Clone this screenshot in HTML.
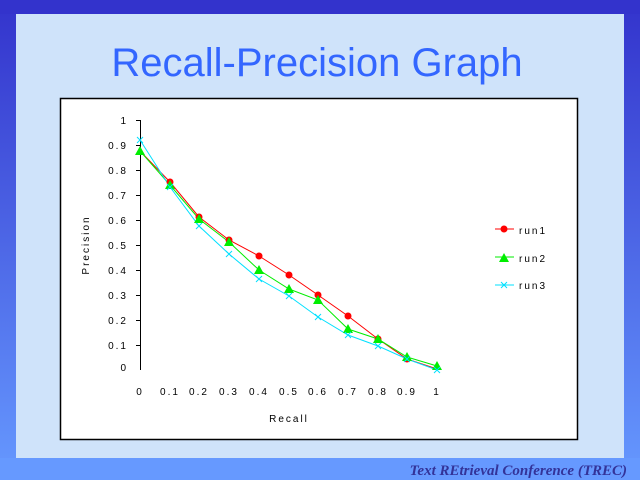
<!DOCTYPE html>
<html><head><style>
html,body{margin:0;padding:0;width:640px;height:480px;overflow:hidden}
body{background:linear-gradient(#3030c8,#4a6ae0 60%,#6090f8);position:relative}
</style></head><body>
<svg width="640" height="480" viewBox="0 0 640 480" xmlns="http://www.w3.org/2000/svg" style="position:absolute;left:0;top:0">
<defs><linearGradient id="b" x1="0" y1="0" x2="0" y2="1"><stop offset="0" stop-color="#3333cc"/><stop offset="1" stop-color="#6699ff"/></linearGradient></defs>
<rect x="0" y="0" width="640" height="480" fill="url(#b)"/>
<rect x="0" y="0" width="640" height="14" fill="#3333cc"/>
<rect x="0" y="458" width="640" height="22" fill="#6699ff"/>
<rect x="16" y="14" width="608" height="444" fill="#cfe3fa"/>
<text x="317" y="76" text-anchor="middle" font-family="Liberation Sans, sans-serif" font-size="40" fill="#3366ff">Recall-Precision Graph</text>
<rect x="60.5" y="98.5" width="517" height="341" fill="#fff" stroke="#000" stroke-width="1.5"/>
<g font-family="Liberation Sans, sans-serif" font-size="10" fill="#000" letter-spacing="2">
<line x1="140.5" y1="120" x2="140.5" y2="370" stroke="#000"/>
<g text-anchor="end">
<text x="128" y="124">1</text><text x="128" y="149">0.9</text><text x="128" y="174">0.8</text><text x="128" y="199">0.7</text><text x="128" y="224">0.6</text><text x="128" y="249">0.5</text><text x="128" y="274">0.4</text><text x="128" y="299">0.3</text><text x="128" y="324">0.2</text><text x="128" y="349">0.1</text><text x="128" y="371">0</text>
</g>
<path d="M136 120.5H140M136 145.5H140M136 170.5H140M136 195.5H140M136 220.5H140M136 245.5H140M136 270.5H140M136 295.5H140M136 320.5H140M136 345.5H140" stroke="#000"/>
<g text-anchor="middle">
<text x="140" y="395">0</text><text x="170" y="395">0.1</text><text x="199" y="395">0.2</text><text x="229" y="395">0.3</text><text x="259" y="395">0.4</text><text x="289" y="395">0.5</text><text x="318" y="395">0.6</text><text x="348" y="395">0.7</text><text x="378" y="395">0.8</text><text x="407" y="395">0.9</text><text x="437" y="395">1</text>
<text x="289" y="422">Recall</text>
</g>
<text transform="translate(89 245) rotate(-90)" text-anchor="middle">Precision</text>
<text x="519" y="234">run1</text><text x="519" y="262">run2</text><text x="519" y="289">run3</text>
</g>
<polyline fill="none" stroke="#ff0000" points="140,151 170,182 199,217 229,240 259,256 289,275 318,295 348,316 378,339 407,359 437,369"/>
<polyline fill="none" stroke="#00ee00" points="140,151 170,185 199,219 229,242 259,270 289,289 318,300 348,329 378,339 407,357 437,366"/>
<polyline fill="none" stroke="#00e0ff" points="140,140 170,187 199,226 229,254 259,279 289,296 318,317 348,335 378,346 407,359 437,370"/>
<g fill="#ff0000">
<circle cx="170" cy="182" r="3.5"/><circle cx="199" cy="217" r="3.5"/><circle cx="229" cy="240" r="3.5"/><circle cx="259" cy="256" r="3.5"/><circle cx="289" cy="275" r="3.5"/><circle cx="318" cy="295" r="3.5"/><circle cx="348" cy="316" r="3.5"/><circle cx="378" cy="339" r="3.5"/><circle cx="407" cy="359" r="3.5"/>
<circle cx="504" cy="229" r="3.5"/><line x1="495" y1="229" x2="514" y2="229" stroke="#ff0000"/>
</g>
<g fill="#00ee00">
<path d="M140 146l5 9h-10z M170 180l5 9h-10z M199 214l5 9h-10z M229 237l5 9h-10z M259 265l5 9h-10z M289 284l5 9h-10z M318 295l5 9h-10z M348 324l5 9h-10z M378 334l5 9h-10z M407 352l5 9h-10z M437 361l5 9h-10z M504 253l5 9h-10z"/>
<line x1="495" y1="257" x2="514" y2="257" stroke="#00ee00"/>
</g>
<g stroke="#00e0ff">
<path d="M137 137l6 6m0-6l-6 6 M167 184l6 6m0-6l-6 6 M196 223l6 6m0-6l-6 6 M226 251l6 6m0-6l-6 6 M256 276l6 6m0-6l-6 6 M286 293l6 6m0-6l-6 6 M315 314l6 6m0-6l-6 6 M345 332l6 6m0-6l-6 6 M375 343l6 6m0-6l-6 6 M404 356l6 6m0-6l-6 6 M434 367l6 6m0-6l-6 6 M501 282l6 6m0-6l-6 6"/>
<line x1="495" y1="285" x2="514" y2="285"/>
</g>
<text x="627" y="475" text-anchor="end" font-family="Liberation Serif, serif" font-style="italic" font-weight="bold" font-size="15" fill="#333399">Text REtrieval Conference (TREC)</text>
</svg>
</body></html>
